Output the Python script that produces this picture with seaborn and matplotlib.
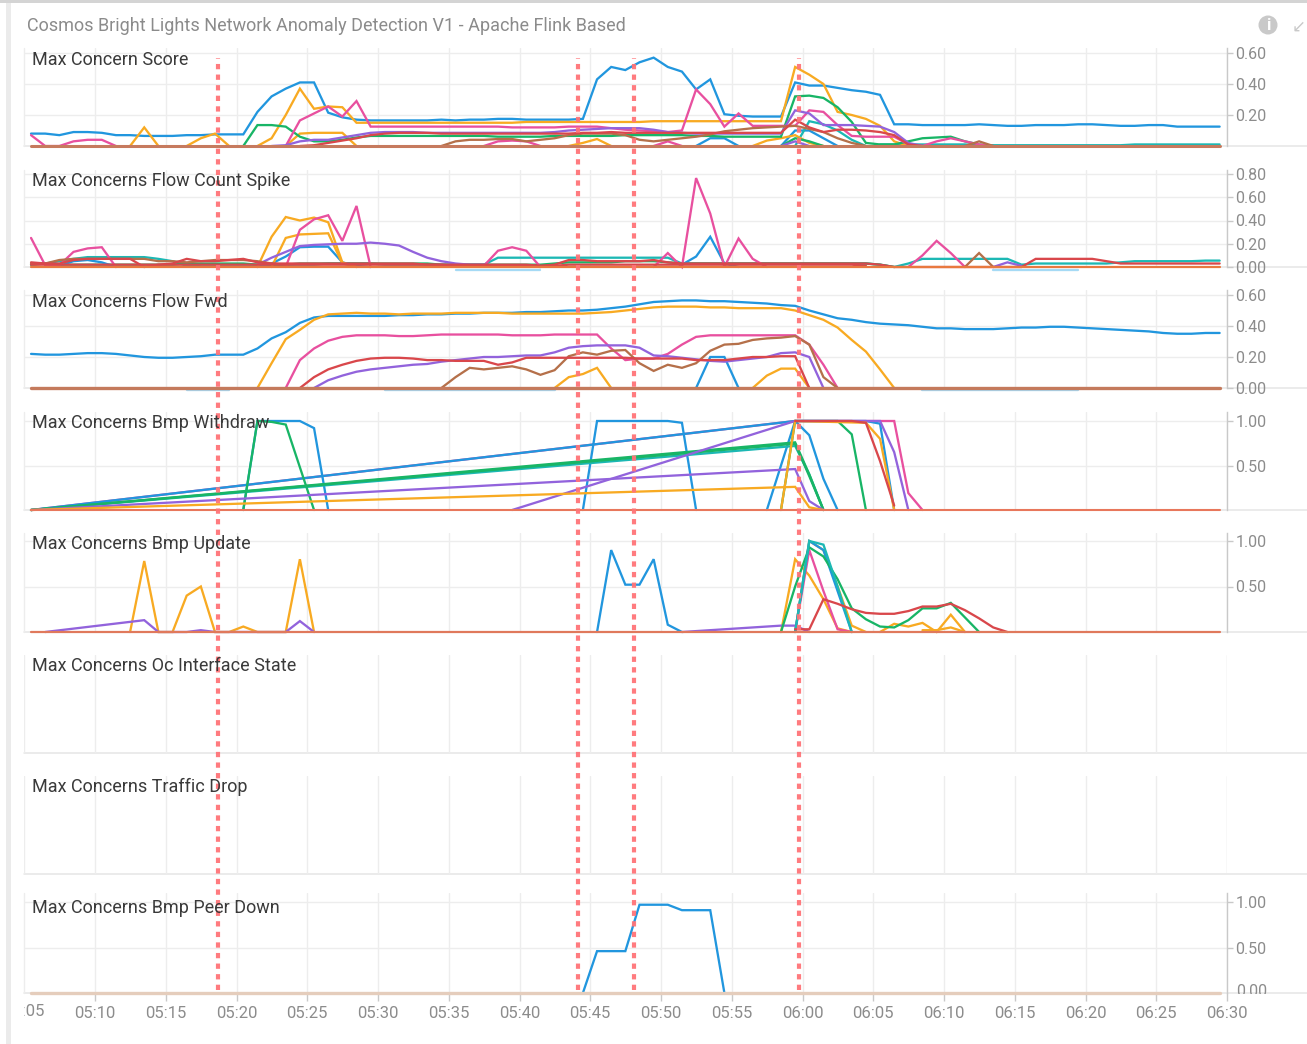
import matplotlib
matplotlib.use("Agg")
import matplotlib.pyplot as plt
import matplotlib.patches as mpatches
from matplotlib.transforms import Bbox
import pandas as pd
import seaborn as sns

W, H = 1307, 1044
TITLE = "Cosmos Bright Lights Network Anomaly Detection V1 - Apache Flink Based"
TIME_LABELS = ["05:10","05:15","05:20","05:25","05:30","05:35","05:40","05:45","05:50","05:55","06:00",
               "06:05","06:10","06:15","06:20","06:25","06:30"]
TIME_TICKS = [10,15,20,25,30,35,40,45,50,55,60,65,70,75,80,85,90]
MARKER_TIMES = [18.7, 44.13, 48.1, 59.75]
N_SAMPLES = 85
FIRST_SAMPLE = 5.48

COLORS = {"blue":"#2196de","orange":"#f8aa22","green":"#18b566","pink":"#e8509f","purple":"#9263dc",
          "red":"#d9474b","brown":"#b5704a","teal":"#1cb8b4","pale":"#a5daf5"}

# ---- Max Concern Score
P1_BLUE = [.08,.08,.07,.09,.09,.085,.07,.07,.065,.065,.065,.07,.07,.075,.075,.075,
           .22,.32,.37,.41,.41,.215,.185,.17,
           .165,.165,.165,.165,.165,.17,.165,.17,.17,.175,.175,.17,.17,.17,.17,.175,
           .43,.51,.49,.54,.57,.51,.48,.365,.43,.205,.195,.19,.19,.19,
           .41,.39,.39,.375,.36,.35,.33,.14,
           .14,.135,.135,.135,.135,.14,.135,.13,.13,.135,.135,.135,.14,.14,.135,.13,.13,.135,.135,.125,.125,.125,.125]
P1_ORANGE_A = [0,.05,.2,.37,.24,.255,.25,.15,.15,.15,.15,.15,.15,.15,.15,.15,.15,.15,.15,.155,.155,.155,.155,.155,
               .155,.155,.155,.155,.16,.16,.16,.16,.16,.16,.16,.16,.16,.16,.51,.46,.40,.22,.2,.175,.13,.03,0]
P1_ORANGE_B = [0,.12,0]
P1_ORANGE_C = [0,.05,.08,0]
P1_ORANGE_D = [0,.08,.085,.085,.085,0]
P1_ORANGE_E = [0,.02,.045,0]
P1_ORANGE_F = [0,.035,.05,.07,.02,0]
P1_GREEN_A = [0,.135,.135,.125,.06,.03,.03,.04,.055,.065,.065,.065,.065,.065,.065,.065,.065,.065,.06,.06,.06,.06,.065,.065,
              .065,.065,.065,.07,.07,.07,.07,.07,.065,.065,.06,.06,.06,.06,.06,.32,.325,.31,.25,.155,.02,.01,.01,.03,.05,.055,.06,.03,.01,0]
P1_GREEN_B = [0,.05,.03,0]
P1_PINK_A = [.07,0,0,.03,.04,.04,0]
P1_PINK_B = [0,.165,.21,.255,.19,.29,.125,.125,.125,.125,.125,.125,.125,.125,.125,.125,.12,.12,.12,.12,.125,.125,.125,
             .115,.105,.1,.095,.09,.1,.365,.27,.125,.21,.13,.13,.13,.13,.23,.22,.135,.065,.06,.06,.06,.01,0,.03,.05,.03,.01,0]
P1_PINK_C = [0,.03,.035,.03,0]
P1_PINK_D = [0,.03,0]
P1_PURPLE = [0,.005,.03,.04,.04,.055,.07,.085,.09,.09,.09,.085,.085,.085,.085,.085,.085,.085,.085,.085,.09,.1,.105,.11,.115,.115,.115,
             .105,.09,.085,.08,.08,.08,.08,.08,.08,.08,.23,.21,.135,.135,.135,.13,.125,.09,.02,0]
P1_RED = [0,.005,.02,.035,.05,.07,.08,.085,.085,.085,.08,.08,.08,.08,.08,.08,.08,.08,.08,.08,.085,.085,.09,.085,.085,.085,.085,.085,.085,.085,.085,.085,.085,.085,.085,
          .17,.12,.09,.105,.105,.10,.09,.07,.01,0]
P1_BROWN_A = [0,.03,.04,.04,.045,.045,.03,.04,.05,.07,.08,.08,.08,.07,.04,.03,.04,.05,.06,.075,.095,.105,.115,.12,.125,.13,.11,.09,.05,.02,0]
P1_BROWN_B = [0,.03,0]
P1_TEAL_A = [0,.16,.14,.1,.04,0]
P1_TEAL_B = [.01,.01,.01,.01,.01,.01,.01,.005,.005,.005,.005,.005,.005,.005,.005,.005,.005,.005,.01,.01,.01,.01,.01,.01,.01]
P1_BLUE_B = [0,.05,.05,0]
P1_BLUE_C = [0,.1,.1,.05,0]
P1_PURPLE_B = [0,.03,0]

# ---- Max Concerns Flow Count Spike
P2_PINK_A = [.25,.015,.015,.13,.16,.17,0]
P2_PINK_B = [0,.32,.41,.445,.225,.525,0]
P2_PINK_C = [.01,.14,.17,.14,0]
P2_PINK_D = [0,.12,0,.765,.46,0,.245,.07,0]
P2_PINK_E = [0,.1,.225,.12,0]
P2_ORANGE_A = [0,.26,.43,.40,.425,.385,.04,0]
P2_ORANGE_B = [0,.25,.28,.285,.29,.03,0]
P2_BLUE_A = [.01,.05,.06,.04,0]
P2_BLUE_B = [0,.03,.09,.17,.175,.175,.04,.01,0]
P2_BLUE_C = [.02,.09,.26,.03,0]
P2_PURPLE_A = [.02,.08,.13,.18,.19,.195,.2,.2,.21,.2,.185,.13,.08,.05,.03,.02,.02,.01,.01,.01,0]
P2_PURPLE_B = [0,.04,.01]
P2_TEAL = [.02,.03,.05,.07,.085,.085,.085,.085,.085,.07,.05,.01,.02,.02,.02,.02,.02,.02,.02,.02,.02,.03,.03,.03,.03,.02,.02,.02,.02,.02,.02,.02,.02,
           .08,.08,.08,.08,.08,.08,.08,.08,.08,.08,.08,.08,.08,.03,.03,.03,.03,.03,.03,.03,.03,.03,.03,.03,.03,.03,.03,.02,0,
           .03,.07,.07,.07,.07,.07,.07,.07,.02,.03,.03,.03,.03,.03,.03,.04,.05,.05,.05,.05,.05,.055,.055]
P2_GREEN = [.02,.03,.02,.02,.02,.02,.02,.02,.02,.02,.02,.03,.03,.03,.03,.03,.02,.02,.02,.03,.03,.03,.03,.03,.03,.03,.03,.03,.03,.02,.02,.02,.02,
            .02,.02,.02,.02,.03,.04,.04,.04,.04,.05,.05,.05,.04,.03,.03,.03,.03,.03,.03,.03,.03,.03,.03,.03,.03,.03,.03,.02,0]
P2_BROWN_B = [.03,.03,.06,.07,.07,.07,.07,.07,.07,.05,.05,.04,.05,.06,.06,.06,.05,.03,.02]
P2_RED = [.04,.03,.03,.06,.07,.07,.07,.07,0,.02,.03,.07,.05,.05,.06,.07,.04,.03,.03,.03,.03,.03,.03,.03,.03,.03,.03,.03,.02,.02,.02,.02,.02,
          .02,.02,.02,.01,.02,.06,.06,.05,.05,.05,.05,.06,.04,.03,.03,.03,.03,.03,.03,.03,.03,.03,.03,.03,.03,.03,.03,.02,0,0,0,0,0,0,0,0,0,0,
          .07,.07,.07,.07,.07,.05,.03,.03,.03,.03,.03,.03,.03,.03]
P2_RED_B = [.02,.02,.02,.02,.02,.02,.02,.02,.02,.02,.02,.02,.02,.02,.02,.02,.02,.02,.02,.02,.02,.02,.02,.02,.02,.02,.02,.02,.02,.02,.01,.01,.01,.01,.01,.01,.01,.01,
            .02,.02,.02,.02,.02,.02,.02,.02,.02,.02,.02,.02,.02,.02,.02,.02,.02,.02,.02,.02,.02,.01]
P2_BROWN = [0,.12,0]
P2_PALE_A = [-.025,-.025,-.025,-.025,-.025,-.025,-.025]
P2_PALE_B = [-.025,-.025,-.025,-.025,-.025,-.025,-.025]

# ---- Max Concerns Flow Fwd
P3_BLUE = [.22,.215,.215,.22,.225,.225,.22,.21,.2,.195,.195,.2,.205,.215,.215,.215,
           .255,.32,.36,.42,.455,.465,.465,.465,.465,.465,.47,.47,.475,.475,.48,.48,.485,.485,.485,.49,.49,.495,.5,.5,
           .505,.515,.525,.54,.555,.56,.565,.565,.56,.56,.555,.55,.545,.535,
           .53,.50,.475,.45,.44,.425,.415,.41,.405,.395,.385,.385,.38,.38,.38,.385,.39,.39,.395,.395,.39,.385,.38,.375,.37,.365,.355,.35,.35,.355,.355]
P3_ORANGE_A = [0,.16,.315,.375,.44,.475,.48,.485,.48,.48,.475,.48,.48,.48,.485,.485,.485,.485,.48,.48,.48,.48,.48,.48,
               .485,.49,.5,.51,.52,.525,.525,.525,.52,.52,.515,.515,.515,.515,.50,.47,.44,.39,.31,.235,.12,0]
P3_ORANGE_B = [0,.07,.09,.13,0]
P3_ORANGE_C = [0,.08,.125,.125,0]
P3_PINK = [0,.18,.255,.305,.33,.34,.34,.34,.335,.335,.34,.345,.345,.345,.345,.345,.34,.34,.34,.345,.345,.345,.345,
           .255,.18,.19,.19,.22,.28,.33,.34,.34,.34,.34,.34,.34,.34,.28,.15,0]
P3_BROWN = [0,.07,.13,.12,.13,.14,.12,.085,.115,.205,.23,.215,.24,.245,.16,.11,.15,.13,.16,.24,.28,.285,.31,.32,.325,.335,.28,.07,0]
P3_RED = [0,.07,.12,.15,.175,.19,.195,.195,.19,.18,.18,.175,.175,.175,.15,.165,.195,.195,.195,.195,.195,.195,.195,.195,.19,.19,
          .19,.19,.18,.18,.18,.19,.2,.2,.205,.205,0]
P3_PURPLE = [0,.05,.08,.105,.12,.13,.14,.15,.155,.17,.18,.19,.2,.2,.205,.21,.21,.23,.26,.27,.275,.275,.275,.26,.21,.205,.195,.185,
             .175,.17,.18,.19,.2,.225,.23,.2,0]
P3_BLUE_B = [0,.2,.2,0]
P3_PALE_A = [-.014,-.014,-.014,-.014]
P3_PALE_B = [-.014,-.014,-.014,-.014,-.014,-.014,-.014,-.014,-.014,-.014,-.014,-.014,-.014]
P3_PALE_C = [-.014,-.014,-.014,-.014,-.014,-.014,-.014,-.014,-.014,-.014,-.014,-.014]

# ---- Max Concerns Bmp Withdraw (index, value pairs: the panel has gaps in its samples)
P4_BLUE_A_I = [15,16,19,20,21]; P4_BLUE_A_V = [0,1,1,.92,0]
P4_BLUE_B_I = [39,40,45,46,47]; P4_BLUE_B_V = [0,1,1,.98,0]
P4_BLUE_C_I = [0,54,55,56,57]; P4_BLUE_C_V = [0,1,.84,.35,0]
P4_BLUE_D_I = [52,54,59,60,61]; P4_BLUE_D_V = [0,1,1,.97,0]
P4_GREEN_A_I = [15,16,17,18,20]; P4_GREEN_A_V = [0,1,.99,.96,0]
P4_GREEN_B_I = [0,54,55,56]; P4_GREEN_B_V = [0,.76,.4,0]
P4_GREEN_C_I = [53,54,57,58,59]; P4_GREEN_C_V = [0,1,1,.85,0]
P4_GREEN_D_I = [0,54,55,56]; P4_GREEN_D_V = [0,.745,.38,0]
P4_TEAL_I = [0,54,55,56]; P4_TEAL_V = [0,.72,.4,0]
P4_PURPLE_A_I = [0,54,55,56]; P4_PURPLE_A_V = [0,.46,.1,0]
P4_PURPLE_B_I = [34,54,60,61,62]; P4_PURPLE_B_V = [0,1,1,.65,0]
P4_ORANGE_A_I = [0,54,55,56]; P4_ORANGE_A_V = [0,.26,.03,0]
P4_ORANGE_B_I = [53,54,59,60,61]; P4_ORANGE_B_V = [0,1,.98,.8,0]
P4_PINK_I = [0,54,61,62,63]; P4_PINK_V = [0,1,1,.19,0]
P4_RED_I = [54,58,59,60,61]; P4_RED_V = [1,1,.98,.55,.05]

# ---- Max Concerns Bmp Update
P5_ORANGE_A_I = [7,8,9,10,11,12,13,14,15,16,18,19,20]; P5_ORANGE_A_V = [0,.78,0,0,.4,.5,0,0,.06,0,0,.8,0]
P5_ORANGE_B = [0,.8,.62,.36,.04,0]
P5_ORANGE_C = [0,1,.9,.5,.07,0]
P5_ORANGE_D = [0,.09,.06,.1,0,.19,0]
P5_ORANGE_E = [.02,.02,.05,0]
P5_PURPLE_A_I = [1,8,9,11,12,13,18,19,20]; P5_PURPLE_A_V = [0,.13,0,0,.02,0,0,.12,0]
P5_PURPLE_B_I = [46,53,54,55]; P5_PURPLE_B_V = [0,.07,.07,0]
P5_BLUE_A = [0,.9,.52,.52,.8,.08,0]
P5_BLUE_B = [0,1,.9,.45,0]
P5_TEAL = [0,1,.96,.5,0]
P5_PINK = [0,.9,.45,.03,0]
P5_GREEN = [0,.5,.93,.83,.58,.26,.14,.06,.05,.13,.26,.26,.32,.16,0]
P5_RED = [.03,.03,.36,.31,.25,.21,.2,.2,.23,.28,.28,.31,.24,.15,.05,0]

# ---- Max Concerns Bmp Peer Down
P8_BLUE = [0,.46,.46,.46,.97,.97,.97,.91,.91,.91,0]

ZEROS = [0,0,0,0,0,0,0,0,0,0,0,0,0,0,0,0,0,0,0,0,0,0,0,0,0,0,0,0,0,0,0,0,0,0,0,0,0,0,0,0,0,0,0,
         0,0,0,0,0,0,0,0,0,0,0,0,0,0,0,0,0,0,0,0,0,0,0,0,0,0,0,0,0,0,0,0,0,0,0,0,0,0,0,0,0,0]

# (colour, first sample or sample list, values)
P1 = [("blue",0,P1_BLUE),("blue",47,P1_BLUE_B),("blue",53,P1_BLUE_C),("teal",54,P1_TEAL_A),("teal",60,P1_TEAL_B),
      ("orange",16,P1_ORANGE_A),("orange",7,P1_ORANGE_B),("orange",11,P1_ORANGE_C),("orange",18,P1_ORANGE_D),("orange",38,P1_ORANGE_E),("orange",51,P1_ORANGE_F),
      ("green",15,P1_GREEN_A),("green",53,P1_GREEN_B),("pink",0,P1_PINK_A),("pink",18,P1_PINK_B),("pink",32,P1_PINK_C),("pink",44,P1_PINK_D),
      ("purple",17,P1_PURPLE),("purple",53,P1_PURPLE_B),("brown",29,P1_BROWN_A),("brown",66,P1_BROWN_B),("red",19,P1_RED)]
P2 = [("pale",30,P2_PALE_A),("pale",68,P2_PALE_B),("teal",0,P2_TEAL),("green",0,P2_GREEN),("blue",2,P2_BLUE_A),("blue",16,P2_BLUE_B),("blue",46,P2_BLUE_C),
      ("orange",16,P2_ORANGE_A),("orange",17,P2_ORANGE_B),("pink",0,P2_PINK_A),("pink",18,P2_PINK_B),("pink",32,P2_PINK_C),("pink",44,P2_PINK_D),("pink",62,P2_PINK_E),
      ("purple",16,P2_PURPLE_A),("purple",68,P2_PURPLE_B),("brown",66,P2_BROWN),("brown",0,P2_BROWN_B),("red",0,P2_RED),("red",0,P2_RED_B)]
P3 = [("pale",11,P3_PALE_A),("pale",25,P3_PALE_B),("pale",63,P3_PALE_C),("blue",0,P3_BLUE),("blue",47,P3_BLUE_B),("orange",16,P3_ORANGE_A),("orange",37,P3_ORANGE_B),("orange",51,P3_ORANGE_C),
      ("pink",18,P3_PINK),("purple",20,P3_PURPLE),("brown",29,P3_BROWN),("red",19,P3_RED)]
P4 = [("pink",P4_PINK_I,P4_PINK_V),("blue",P4_BLUE_A_I,P4_BLUE_A_V),("blue",P4_BLUE_B_I,P4_BLUE_B_V),("blue",P4_BLUE_C_I,P4_BLUE_C_V),("blue",P4_BLUE_D_I,P4_BLUE_D_V),
      ("teal",P4_TEAL_I,P4_TEAL_V),("green",P4_GREEN_A_I,P4_GREEN_A_V),("green",P4_GREEN_B_I,P4_GREEN_B_V),("green",P4_GREEN_D_I,P4_GREEN_D_V),("green",P4_GREEN_C_I,P4_GREEN_C_V),
      ("purple",P4_PURPLE_A_I,P4_PURPLE_A_V),("purple",P4_PURPLE_B_I,P4_PURPLE_B_V),("orange",P4_ORANGE_A_I,P4_ORANGE_A_V),("orange",P4_ORANGE_B_I,P4_ORANGE_B_V),("red",P4_RED_I,P4_RED_V)]
P5 = [("orange",P5_ORANGE_A_I,P5_ORANGE_A_V),("orange",53,P5_ORANGE_B),("orange",54,P5_ORANGE_C),("orange",60,P5_ORANGE_D),("orange",63,P5_ORANGE_E),
      ("purple",P5_PURPLE_A_I,P5_PURPLE_A_V),("purple",P5_PURPLE_B_I,P5_PURPLE_B_V),("blue",40,P5_BLUE_A),("pink",54,P5_PINK),("blue",54,P5_BLUE_B),
      ("green",53,P5_GREEN),("teal",54,P5_TEAL),("red",54,P5_RED)]
P8 = [("blue",39,P8_BLUE)]

# title, title px, zero line px, top px, px per unit, ticks, series, base colour, base width
PANELS = [("Max Concern Score",60,146,48,155,[.2,.4,.6],P1,"#c67a5e",2.2),
          ("Max Concerns Flow Count Spike",181,267,170,116.25,[0,.2,.4,.6,.8],P2,"#e8793f",1.6),
          ("Max Concerns Flow Fwd",302,388,290,155,[0,.2,.4,.6],P3,"#c47a5c",2.4),
          ("Max Concerns Bmp Withdraw",423,510,412,89,[.5,1],P4,"#e8775c",1.5),
          ("Max Concerns Bmp Update",544,632,533,91,[.5,1],P5,"#e0795c",1.6),
          ("Max Concerns Oc Interface State",666,753,655,None,[],[],None,0),
          ("Max Concerns Traffic Drop",787,874,776,None,[],[],None,0),
          ("Max Concerns Bmp Peer Down",908,993,893,91,[.5,1],P8,"#e5cdbc",2.4)]

sns.set_theme(style="white")
plt.rcParams["font.family"] = ["Roboto", "DejaVu Sans"]
fig = plt.figure(figsize=(W/100, H/100), dpi=100, facecolor="white")
L, R = 24.25, 1227.0
GRID = "#ededed"; TICKC = "#8c8c8c"

def add_axes(top, bottom):
    return fig.add_axes([L/W, 1-bottom/H, (R-L)/W, (bottom-top)/H])

def frame(series):
    rows = []
    for n, (col, where, vals) in enumerate(series):
        idx = where if isinstance(where, list) else [where+k for k in range(len(vals))]
        for i, v in zip(idx, vals):
            rows.append({"minute": FIRST_SAMPLE+i, "value": v, "line": f"{n}", "colour": col})
    return pd.DataFrame(rows)

for (label, ly, y0, top, k, ticks, series, basec, basew) in PANELS:
    ax = add_axes(top, y0)
    ax.set_xlim(5, 90)
    ymax = (y0-top)/k if k else 1
    ax.set_ylim(0, ymax)
    ax.set_facecolor("none")
    for s in ax.spines.values():
        s.set_visible(False)
    ax.set_xticks(TIME_TICKS)
    ax.set_xticklabels([])
    ax.tick_params(axis="x", length=0)
    ax.grid(True, axis="x", color=GRID, lw=1)
    ax.set_axisbelow(True)
    ax.axhline(0, xmin=0, xmax=(W-L)/(R-L), color="#e6e6e6", lw=1.1, clip_on=False, zorder=0.5)
    ax.axvline(5, color=GRID, lw=1)
    ax.yaxis.tick_right()
    if k:
        ax.spines["right"].set_visible(True)
        ax.spines["right"].set_color("#c9c9c9")
        ax.spines["right"].set_linewidth(1)
        ax.set_yticks(ticks)
        ax.set_yticklabels([f"{t:.2f}" for t in ticks])
        ax.tick_params(axis="y", length=4, width=1, color="#c9c9c9", labelcolor=TICKC, labelsize=11.5, pad=2, right=True, left=False)
        ax.grid(True, axis="y", color=GRID, lw=1)
    else:
        ax.set_yticks([])
        ax.axvline(90, color=GRID, lw=1)
    if series:
        df = frame(series)
        pal = {f"{n}": COLORS[c[0]] for n, c in enumerate(series)}
        sns.lineplot(data=df, x="minute", y="value", hue="line", palette=pal, hue_order=list(pal),
                     estimator=None, sort=False, errorbar=None, legend=False, lw=1.65, ax=ax)
        base = pd.DataFrame({"minute": [FIRST_SAMPLE+i for i in range(N_SAMPLES)], "value": ZEROS})
        sns.lineplot(data=base, x="minute", y="value", color=basec, lw=basew, estimator=None, sort=False,
                     errorbar=None, legend=False, ax=ax)
        for ln in ax.lines:
            ln.set_clip_on(False)
            ln.set_solid_joinstyle("miter")
    ax.set_xlabel(""); ax.set_ylabel("")
    fig.text(32/W, 1-ly/H, label, color="#3a3a3a", fontsize=13, va="center", ha="left")
    if y0 == 993:
        ax_last = ax

# bottom time axis
ax_last.set_xticklabels(TIME_LABELS)
ax_last.tick_params(axis="x", length=6, width=1, color="#c9c9c9", labelcolor=TICKC, labelsize=12, pad=3, bottom=True)
clip = Bbox.from_extents(0, H-994, W, H)
t0 = fig.text(1236/W, 1-992/H, "0.00", color=TICKC, fontsize=11.5, va="center", ha="left", clip_on=True)
t0.set_clip_box(clip)
clip2 = Bbox.from_extents(23.5, 0, W, H)
t1 = fig.text(24.25/W, 1-1011/H, "05:05", color=TICKC, fontsize=12, va="center", ha="center", clip_on=True)
t1.set_clip_box(clip2)

# overlay of dashed annotation lines
ov = add_axes(58, 990)
ov.set_xlim(5, 90); ov.set_ylim(0, 1); ov.axis("off"); ov.patch.set_alpha(0)
for m in MARKER_TIMES:
    ov.axvline(m, color="#ff7478", lw=3.0, alpha=0.95, dashes=(1.27, 1.27), zorder=10)

# panel chrome
fig.text(27/W, 1-26/H, TITLE, color="#8b8b8b", fontsize=12.97, va="center", ha="left")
fig.add_artist(mpatches.Rectangle((6/W, 0), 5/W, 1, transform=fig.transFigure, color="#ebebeb", lw=0))
fig.add_artist(mpatches.Rectangle((0, 1-3/H), 1, 3/H, transform=fig.transFigure, color="#d4d4d4", lw=0))
fig.add_artist(mpatches.Ellipse((1268/W, 1-25/H), 19/W, 19/H, transform=fig.transFigure, color="#c9c9c9", lw=0))
fig.text(1268/W, 1-25/H, "i", color="white", fontsize=12, fontweight="bold", va="center", ha="center")
fig.text(1306/W, 1-27/H, "\u2199", color="#c9c9c9", fontsize=12, va="center", ha="right", family=["DejaVu Sans"])

fig.savefig("out.png", dpi=100, facecolor="white")
